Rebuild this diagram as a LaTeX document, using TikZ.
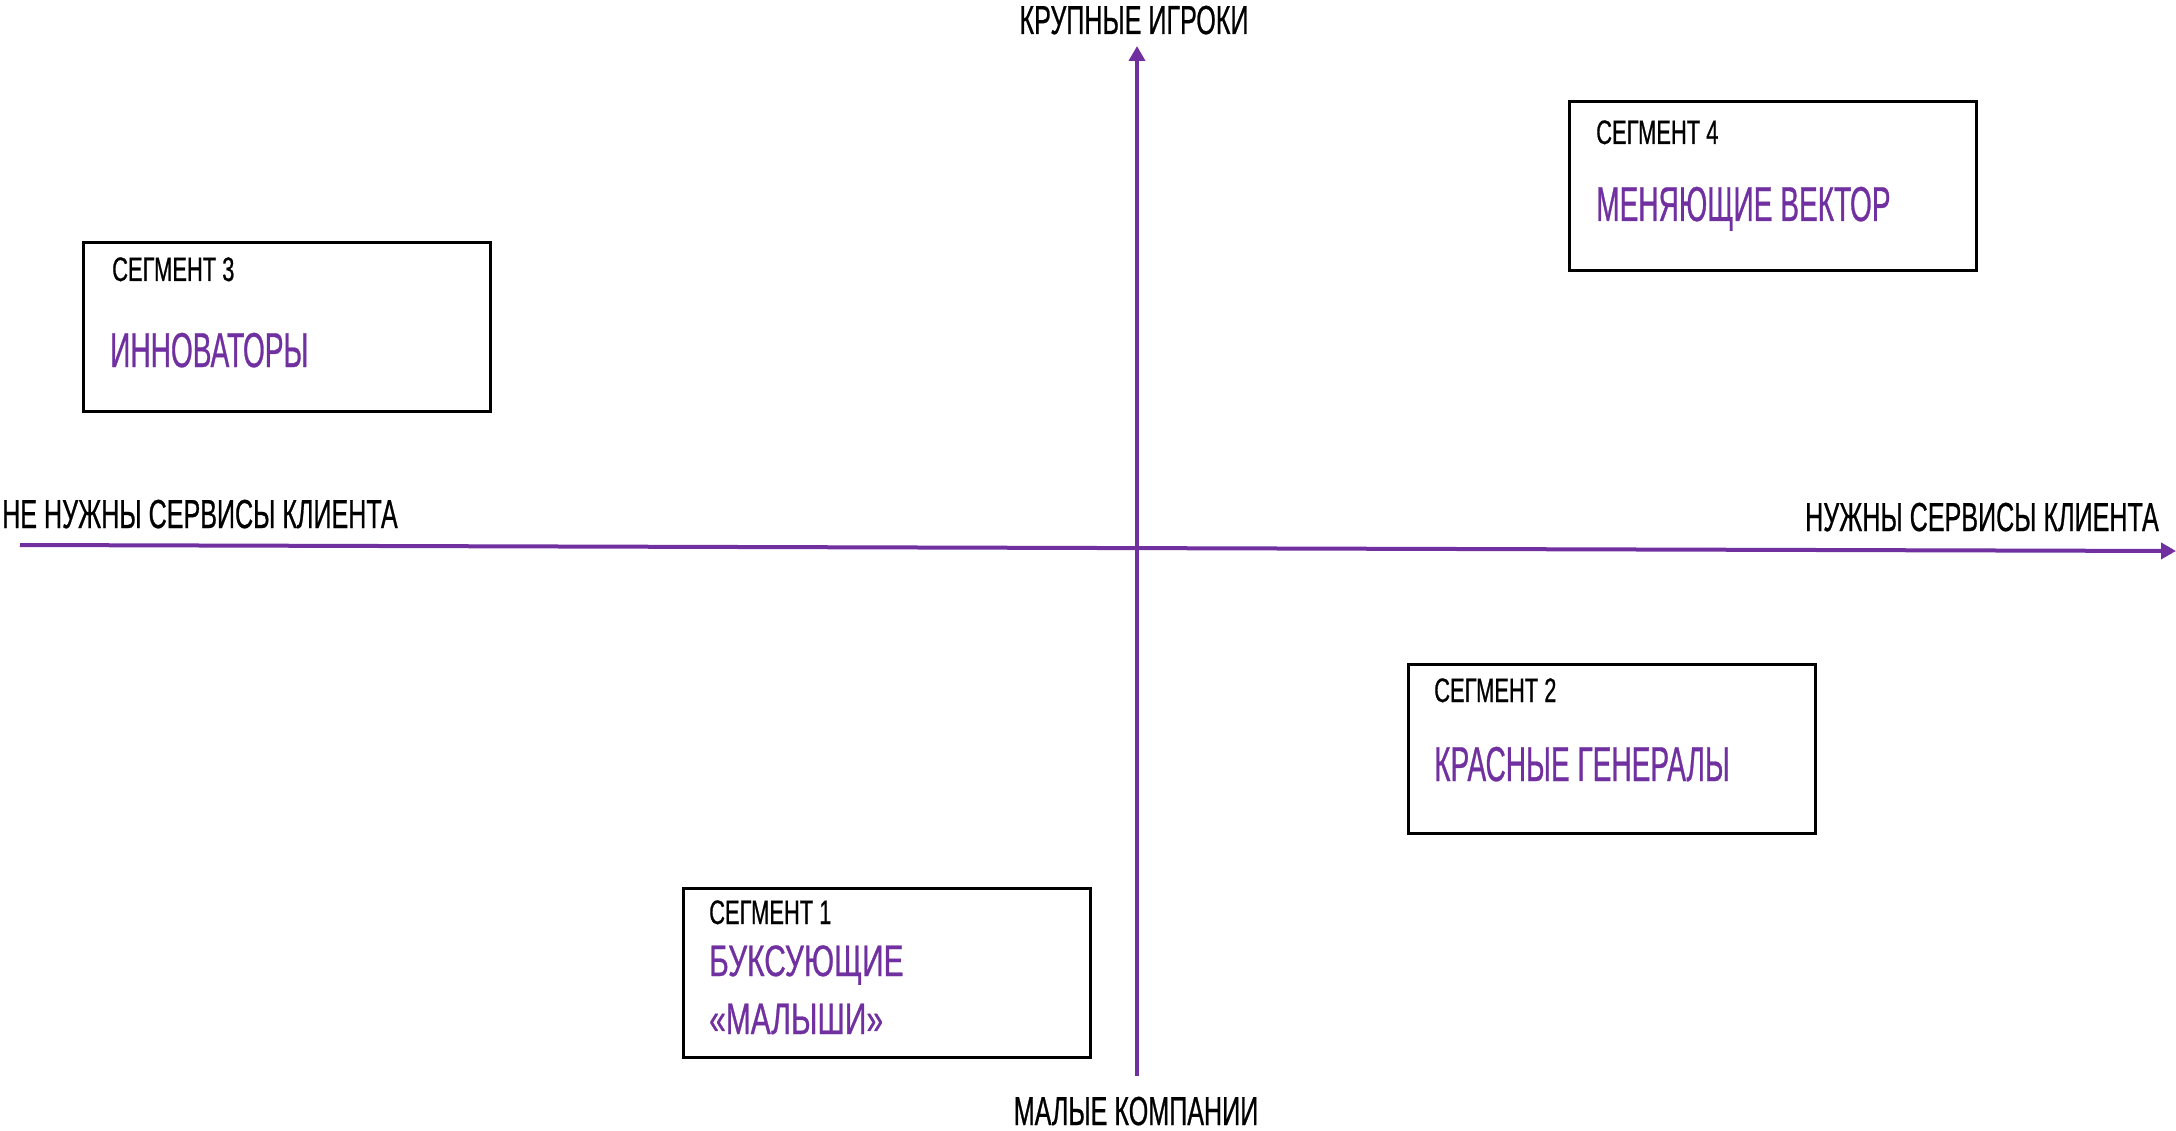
\documentclass[tikz,border=0pt]{standalone}
\usepackage{fontspec}
\setmainfont[FakeStretch=0.62,FakeBold=0.6]{Liberation Sans}
\newfontfamily\segfont[FakeStretch=0.645,FakeBold=0.6]{Liberation Sans}
\newfontfamily\namefont[FakeStretch=0.573,FakeBold=0.6]{Liberation Sans}
\newfontfamily\namefontb[FakeStretch=0.68,FakeBold=0.6]{Liberation Sans}
\usetikzlibrary{arrows.meta}
\definecolor{axpurple}{HTML}{7030A0}
\tikzset{
  axis/.style={draw=axpurple, line width=4pt, -{Triangle[length=15pt,width=16pt]}},
  segbox/.style={draw=black, line width=3pt, inner sep=0pt, minimum width=407pt, minimum height=169pt, anchor=north west},
  axlabel/.style={inner sep=0pt, font=\fontsize{40.5pt}{44pt}\selectfont, text=black},
  seglabel/.style={inner sep=0pt, anchor=base west, font=\segfont\fontsize{34pt}{38pt}\selectfont, text=black},
  segname/.style={inner sep=0pt, anchor=base west, font=\namefont\fontsize{49pt}{54pt}\selectfont, text=axpurple},
  segnamesm/.style={inner sep=0pt, anchor=base west, font=\namefontb\fontsize{44pt}{48pt}\selectfont, text=axpurple},
}
\begin{document}
\begin{tikzpicture}[x=1pt,y=-1pt]
\useasboundingbox (0,0) rectangle (2176,1131);
% axes
\coordinate (vbot) at (1137,1076);
\coordinate (vtop) at (1137,46);
\coordinate (hleft) at (20,545);
\coordinate (hright) at (2176,551);
\draw[axis] (vbot) -- (vtop);
\draw[axis] (hleft) -- (hright);
% axis labels
\node[axlabel, anchor=base] (ltop) at (1134,34) {КРУПНЫЕ ИГРОКИ};
\node[axlabel, anchor=base] (lbot) at (1136,1125) {МАЛЫЕ КОМПАНИИ};
\node[axlabel, anchor=base west] (lleft) at (2,528) {НЕ НУЖНЫ СЕРВИСЫ КЛИЕНТА};
\node[axlabel, anchor=base east] (lright) at (2159,531) {НУЖНЫ СЕРВИСЫ КЛИЕНТА};
% boxes
\node[segbox] (b3) at (82,241) {};
\node[segbox] (b4) at (1568,100) {};
\node[segbox] (b2) at (1407,663) {};
\node[segbox] (b1) at (682,887) {};
% box texts
\node[seglabel] (s3) at (112,281) {СЕГМЕНТ 3};
\node[segname] (n3) at (110,367) {ИННОВАТОРЫ};
\node[seglabel] (s4) at (1596,144) {СЕГМЕНТ 4};
\node[segname] (n4) at (1596,221) {МЕНЯЮЩИЕ ВЕКТОР};
\node[seglabel] (s2) at (1434,702) {СЕГМЕНТ 2};
\node[segname] (n2) at (1434,781) {КРАСНЫЕ ГЕНЕРАЛЫ};
\node[seglabel] (s1) at (709,924) {СЕГМЕНТ 1};
\node[segnamesm] (n1a) at (709,976) {БУКСУЮЩИЕ};
\node[segnamesm] (n1b) at (709,1034) {«МАЛЫШИ»};
\end{tikzpicture}
\end{document}
